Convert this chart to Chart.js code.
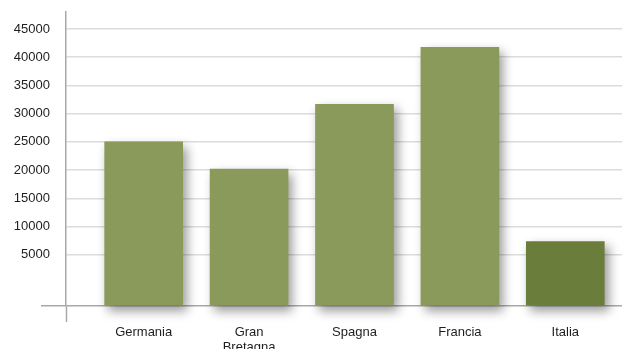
<!DOCTYPE html>
<html>
<head>
<meta charset="utf-8">
<script src="https://cdn.jsdelivr.net/npm/chart.js@4/dist/chart.umd.min.js"></script>
<style>
html,body{margin:0;padding:0;background:#fff;}
#wrap{width:622px;height:349px;position:relative;}
</style>
</head>
<body>
<div id="wrap"><canvas id="c"></canvas></div>
<script>
const categories = ['Germania', 'Gran Bretagna', 'Spagna', 'Francia', 'Italia'];
const values = [25000, 20170, 31650, 41720, 7340];
const barColors = ['#8a9a5b', '#8a9a5b', '#8a9a5b', '#8a9a5b', '#6b7d3a'];
const yTickLabels = [5000, 10000, 15000, 20000, 25000, 30000, 35000, 40000, 45000];
const yMin = -4080, yMax = 48000;
const xMin = -0.737, xMax = 4.538;

const gridColor = '#dcdcdc';
const axisColor = '#a8a8a8';
const textColor = '#1e1e1e';

const shadowPlugin = {
  id: 'barShadow',
  beforeDatasetsDraw(chart) {
    const ctx = chart.ctx;
    ctx.save();
    ctx.shadowColor = 'rgba(0,0,0,0.4)';
    ctx.shadowBlur = 10;
    ctx.shadowOffsetX = 4;
    ctx.shadowOffsetY = 5;
  },
  afterDatasetsDraw(chart) {
    chart.ctx.restore();
  }
};

new Chart(document.getElementById('c'), {
  type: 'bar',
  data: {
    datasets: [{
      data: categories.map((c, i) => ({x: i, y: values[i]})),
      backgroundColor: barColors,
      borderWidth: 0,
      base: yMin,
      clip: false,
      barThickness: 78
    }]
  },
  plugins: [shadowPlugin],
  options: {
    responsive: true,
    maintainAspectRatio: false,
    animation: false,
    layout: {padding: {top: 12, left: 0, right: 0, bottom: 0}},
    plugins: {legend: {display: false}, tooltip: {enabled: false}},
    scales: {
      x: {
        type: 'linear',
        min: xMin,
        max: xMax,
        offset: false,
        afterBuildTicks: axis => { axis.ticks = [xMin].concat(categories.map((c, i) => i)).map(v => ({value: v})); },
        afterFit: s => { s.height = 43; },
        border: {display: true, color: axisColor, width: 1.5},
        grid: {
          display: true,
          offset: false,
          drawOnChartArea: false,
          drawTicks: true,
          tickLength: 16,
          tickWidth: 1.5,
          tickColor: ctx => (ctx.tick && ctx.tick.value === xMin) ? axisColor : 'rgba(0,0,0,0)'
        },
        ticks: {
          autoSkip: false,
          maxRotation: 0,
          padding: 3,
          color: textColor,
          font: {family: 'Liberation Sans, Arial, sans-serif', size: 13, lineHeight: 1.15},
          callback: v => {
            const c = categories[v];
            if (c === undefined || !Number.isInteger(v)) return '';
            return c.indexOf(' ') >= 0 ? c.split(' ') : c;
          }
        }
      },
      y: {
        type: 'linear',
        min: yMin,
        max: yMax,
        afterBuildTicks: axis => { axis.ticks = [yMin].concat(yTickLabels).map(v => ({value: v})); },
        afterFit: s => { s.width = 66; },
        border: {display: true, color: axisColor, width: 1.5},
        grid: {
          color: ctx => (ctx.tick && ctx.tick.value === yMin) ? 'rgba(0,0,0,0)' : gridColor,
          lineWidth: 1.5,
          drawTicks: true,
          tickLength: 25,
          tickWidth: 1.5,
          tickColor: ctx => (ctx.tick && ctx.tick.value === yMin) ? axisColor : 'rgba(0,0,0,0)'
        },
        ticks: {
          autoSkip: false,
          padding: -9,
          color: textColor,
          font: {family: 'Liberation Sans, Arial, sans-serif', size: 13},
          callback: v => yTickLabels.includes(v) ? String(v) : ''
        }
      }
    }
  }
});
</script>
</body>
</html>
